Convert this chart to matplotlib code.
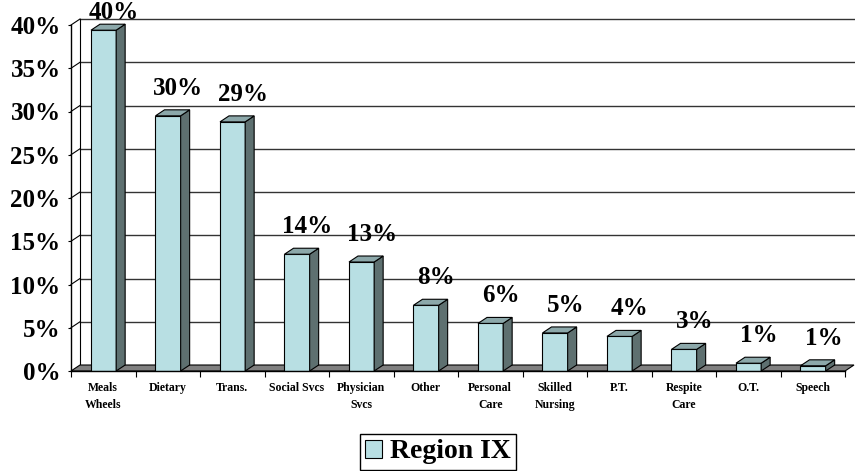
import matplotlib.pyplot as plt
from matplotlib.patches import Polygon, Patch

plt.rcParams['font.family'] = ['Liberation Serif', 'DejaVu Serif']
plt.rcParams['font.weight'] = 'bold'

# data
categories = ['Meals\nWheels', 'Dietary', 'Trans.', 'Social Svcs', 'Physician\nSvcs', 'Other',
              'Personal\nCare', 'Skilled\nNursing', 'P.T.', 'Respite\nCare', 'O.T.', 'Speech']
values = [39.4, 29.5, 28.8, 13.5, 12.6, 7.6, 5.5, 4.4, 4.0, 2.5, 0.9, 0.6]
value_labels = ['40%', '30%', '29%', '14%', '13%', '8%', '6%', '5%', '4%', '3%', '1%', '1%']
yticks = [0, 5, 10, 15, 20, 25, 30, 35, 40]

front_col = '#B8DFE3'
side_col = '#5E7070'
top_col = '#8CA8AA'
floor_col = '#808080'

fig = plt.figure(figsize=(8.55, 4.71), dpi=100)
ax = fig.add_axes([71 / 855, 1 - 371 / 471, 774 / 855, 346 / 471])
n = len(categories)
ax.set_xlim(0, n)
ax.set_ylim(0, 40)

# depth offset of the 3d look (in data units)
dx = 9 / 64.5
dy = 6 / 8.66

# back wall grid and left wall
for v in yticks[1:]:
    ax.plot([dx, n + dx], [v + dy, v + dy], color='#333333', lw=1, clip_on=False, zorder=1)
    ax.plot([0, dx], [v, v + dy], color='black', lw=0.8, clip_on=False, zorder=1)
ax.plot([dx, dx], [dy, 40 + dy], color='black', lw=0.8, clip_on=False, zorder=1)

# floor
floor = Polygon([(0, 0), (n, 0), (n + dx, dy), (dx, dy)], closed=True,
                facecolor=floor_col, edgecolor='black', lw=0.8, clip_on=False, zorder=2)
ax.add_patch(floor)

# bars: front face + side + top
x0 = [i + 0.31 for i in range(n)]
w = 0.39
ax.bar(x0, values, width=w, align='edge', color=front_col, edgecolor='black', lw=0.8, zorder=3)
for xl, v, lab in zip(x0, values, value_labels):
    xr = xl + w
    side = Polygon([(xr, 0), (xr + dx, dy), (xr + dx, v + dy), (xr, v)], closed=True,
                   facecolor=side_col, edgecolor='black', lw=0.8, clip_on=False, zorder=3)
    top = Polygon([(xl, v), (xr, v), (xr + dx, v + dy), (xl + dx, v + dy)], closed=True,
                  facecolor=top_col, edgecolor='black', lw=0.8, clip_on=False, zorder=3)
    ax.add_patch(side)
    ax.add_patch(top)
    ax.text(xl + w / 2 + 0.16, min(v + 3.2, 41.4), lab, ha='center', va='center',
            fontsize=18, fontweight='bold', clip_on=False, zorder=4)

# axes and ticks
for s in ['top', 'right', 'bottom']:
    ax.spines[s].set_visible(False)
ax.spines['left'].set_linewidth(1)
ax.set_yticks(yticks)
ax.set_yticklabels([f'{t}%' for t in yticks], fontsize=18, fontweight='bold')
ax.tick_params(axis='y', direction='out', length=2.5, width=0.8, pad=5)
ax.set_xticks([i + 0.5 for i in range(n)])
ax.set_xticklabels(categories, fontsize=8.5, fontweight='bold', linespacing=1.5)
ax.set_xticks(range(n + 1), minor=True)
ax.tick_params(axis='x', which='major', length=0, pad=8)
ax.tick_params(axis='x', which='minor', direction='out', length=4, width=0.8)
ax.plot([0, n], [0, 0], color='black', lw=1, clip_on=False, zorder=5)

leg = fig.legend(handles=[Patch(facecolor=front_col, edgecolor='black', lw=0.8)],
                 labels=['Region IX'], loc='center', bbox_to_anchor=(438 / 855, 1 - 452 / 471),
                 fancybox=False, edgecolor='black', framealpha=1,
                 prop={'size': 20, 'weight': 'bold'}, handlelength=0.6, handleheight=0.6,
                 handletextpad=0.3, borderpad=0.2)
leg.get_frame().set_linewidth(1)

fig.savefig('out.png', dpi=100)
